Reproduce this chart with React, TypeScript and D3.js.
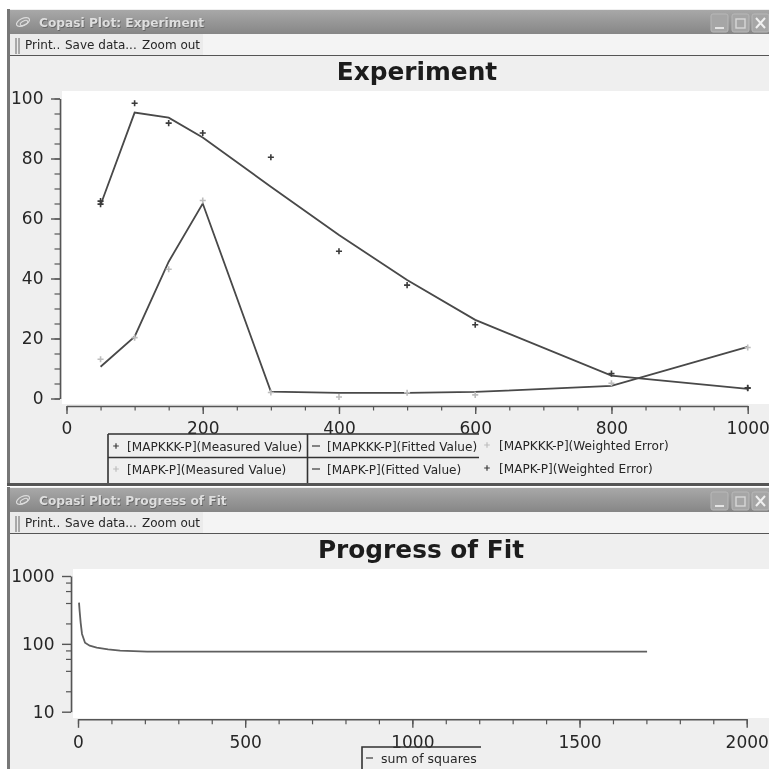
import { useEffect, useRef } from 'react';
import * as d3 from 'd3';

const timePoints = [50, 100, 150, 200, 300, 400, 500, 600, 800, 1000];
const mapkkkMeasured = [65.8, 98.4, 91.8, 88.5, 80.4, 49.1, 37.8, 24.6, 8.3, 3.6];
const mapkkkFitted = [64.5, 95.3, 93.6, 87, 70.6, 54.5, 39.5, 26.2, 7.6, 3.2];
const mapkMeasured = [13.1, 20.3, 43.1, 66, 2, 0.5, 1.9, 1.2, 5.1, 17];
const mapkFitted = [10.6, 20.6, 45.6, 65, 2.3, 1.9, 1.9, 2.2, 4.2, 17.2];
// weighted errors mostly sit under the measured marks, only these show
const errorTimes = [50, 1000];
const mapkError = [64.8, 3.4];

const fitSteps = [3, 5, 8, 12, 21, 35, 56, 90, 126, 207, 1702];
const fitSquares = [405, 300, 204, 140, 104, 94, 88, 83, 79.6, 77, 77];

const expXTicks = [0, 200, 400, 600, 800, 1000];
const expXMinor = d3.range(0, 1001, 50);
const expYTicks = [0, 20, 40, 60, 80, 100];
const expYMinor = d3.range(0, 101, 5);
const fitXTicks = [0, 500, 1000, 1500, 2000];
const fitXMinor = d3.range(0, 2001, 100);
const fitYTicks = [10, 100, 1000];
const fitYMinor = [20, 40, 60, 80, 200, 400, 600, 800];

const expLegend = [
  ['[MAPKKK-P](Measured Value)', '[MAPKKK-P](Fitted Value)', '[MAPKKK-P](Weighted Error)'],
  ['[MAPK-P](Measured Value)', '[MAPK-P](Fitted Value)', '[MAPK-P](Weighted Error)'],
];

const DARK = '#3a3a3a';
const LIGHT = '#bdbdbd';
const TEXT = '#262626';
const PANEL = '#efefef';
const FONT = '"DejaVu Sans", sans-serif';

type Sel = d3.Selection<any, unknown, null, undefined>;

function drawWindow(svg: Sel, top: number, bottom: number, label: string, title: string, titleX: number, titleY: number) {
  const g = svg.append('g');
  g.append('rect').attr('x', 7).attr('y', top).attr('width', 762).attr('height', bottom - top).attr('fill', PANEL);
  g.append('rect').attr('x', 8).attr('y', top + 1).attr('width', 761).attr('height', 24).attr('fill', 'url(#bar)');
  g.append('rect').attr('x', 7).attr('y', top).attr('width', 3).attr('height', bottom - top).attr('fill', '#777');

  // swirl icon
  g.append('ellipse').attr('cx', 23).attr('cy', top + 13).attr('rx', 7).attr('ry', 3.5)
    .attr('transform', `rotate(-25 23 ${top + 13})`)
    .attr('fill', 'none').attr('stroke', '#ddd').attr('stroke-width', 1.2);
  g.append('ellipse').attr('cx', 24).attr('cy', top + 14).attr('rx', 4).attr('ry', 2)
    .attr('transform', `rotate(-25 24 ${top + 14})`)
    .attr('fill', 'none').attr('stroke', '#ddd').attr('stroke-width', 1);

  g.append('text').attr('x', 39.7).attr('y', top + 18.7).text(label)
    .attr('font-family', FONT).attr('font-weight', 'bold').attr('font-size', 12.2).attr('fill', '#666');
  g.append('text').attr('x', 39).attr('y', top + 18).text(label)
    .attr('font-family', FONT).attr('font-weight', 'bold').attr('font-size', 12.2).attr('fill', '#dedede');

  // window buttons
  const btnX = [711, 732, 752];
  btnX.forEach(x => {
    g.append('rect').attr('x', x).attr('y', top + 5).attr('width', 17).attr('height', 18).attr('rx', 2)
      .attr('fill', '#a6a6a6').attr('stroke', '#b8b8b8');
  });
  g.append('path').attr('d', `M715 ${top + 19}h9`).attr('stroke', '#e4e4e4').attr('stroke-width', 2);
  g.append('rect').attr('x', 736).attr('y', top + 10).attr('width', 9).attr('height', 9)
    .attr('fill', 'none').attr('stroke', '#d8d8d8').attr('stroke-width', 1.4);
  g.append('path').attr('d', `M756 ${top + 9}l9 10m0 -10l-9 10`).attr('stroke', '#f0f0f0').attr('stroke-width', 2);

  // toolbar
  g.append('rect').attr('x', 10).attr('y', top + 25).attr('width', 759).attr('height', 21).attr('fill', '#f4f4f4');
  g.append('rect').attr('x', 10).attr('y', top + 25).attr('width', 193).attr('height', 21).attr('fill', '#ebebeb');
  g.append('path').attr('d', `M16 ${top + 29}v16M19 ${top + 29}v16`).attr('stroke', '#666').attr('stroke-width', 1);
  g.append('rect').attr('x', 10).attr('y', top + 46).attr('width', 759).attr('height', 1).attr('fill', '#555');
  const toolX = [25, 65, 142];
  ['Print..', 'Save data...', 'Zoom out'].forEach((t, i) => {
    g.append('text').attr('x', toolX[i]).attr('y', top + 40).text(t)
      .attr('font-family', FONT).attr('font-size', 12).attr('fill', TEXT);
  });

  g.append('text').attr('x', titleX).attr('y', titleY).attr('text-anchor', 'middle').text(title)
    .attr('font-family', FONT).attr('font-weight', 'bold').attr('font-size', 24.8).attr('fill', '#1c1c1c');
}

function drawAxis(svg: Sel, axis: d3.Axis<any>, minor: d3.Axis<any>, x: number, y: number) {
  const gMinor = svg.append('g').attr('transform', `translate(${x},${y})`).call(minor);
  gMinor.select('.domain').attr('stroke', '#555').attr('stroke-width', 1.6);
  gMinor.selectAll('.tick line').attr('stroke', '#555').attr('stroke-width', 1.2);
  gMinor.selectAll('.tick text').remove();
  const g = svg.append('g').attr('transform', `translate(${x},${y})`).call(axis);
  g.select('.domain').remove();
  g.selectAll('.tick line').attr('stroke', '#555').attr('stroke-width', 1.4);
  g.selectAll('.tick text').attr('font-family', FONT).attr('font-size', 17).attr('fill', TEXT);
}

function drawLegendText(svg: Sel, x: number, y: number, t: string, size: number) {
  svg.append('text').attr('x', x).attr('y', y).text(t)
    .attr('font-family', FONT).attr('font-size', size).attr('fill', TEXT);
}

export default function App() {
  const ref = useRef<SVGSVGElement>(null);

  useEffect(() => {
    d3.select(ref.current).selectAll('*').remove();
    const root = d3.select(ref.current);

    const defs = root.append('defs');
    const grad = defs.append('linearGradient').attr('id', 'bar').attr('x1', 0).attr('x2', 0).attr('y1', 0).attr('y2', 1);
    grad.append('stop').attr('offset', '0%').attr('stop-color', '#a8a8a8');
    grad.append('stop').attr('offset', '100%').attr('stop-color', '#868686');
    defs.append('filter').attr('id', 'soft').append('feGaussianBlur').attr('stdDeviation', 0.45);

    const svg = root.append('g').attr('filter', 'url(#soft)') as Sel;
    svg.append('rect').attr('width', 769).attr('height', 769).attr('fill', '#fff');

    // top window
    drawWindow(svg, 9, 484, 'Copasi Plot: Experiment', 'Experiment', 417, 80);
    svg.append('rect').attr('x', 7).attr('y', 483).attr('width', 762).attr('height', 3).attr('fill', '#555');
    svg.append('rect').attr('x', 62).attr('y', 91).attr('width', 707).attr('height', 313).attr('fill', '#fff');

    const x1 = d3.scaleLinear().domain([0, 1000]).range([66.5, 747.7]);
    const y1 = d3.scaleLinear().domain([0, 100]).range([398.5, 98.5]);

    drawAxis(svg,
      d3.axisBottom(x1).tickValues(expXTicks).tickSize(8).tickPadding(8).tickFormat(d3.format('d')),
      d3.axisBottom(x1).tickValues(expXMinor).tickSize(4.5).tickSizeOuter(0),
      0, 406);
    drawAxis(svg,
      d3.axisLeft(y1).tickValues(expYTicks).tickSize(9).tickPadding(7.5).tickFormat(d3.format('d')),
      d3.axisLeft(y1).tickValues(expYMinor).tickSize(5.5).tickSizeOuter(0),
      60, 0);

    const line1 = d3.line<[number, number]>().x(d => x1(d[0])).y(d => y1(d[1]));
    [mapkkkFitted, mapkFitted].forEach(vals => {
      svg.append('path')
        .attr('d', line1(timePoints.map((t, i) => [t, vals[i]] as [number, number])))
        .attr('fill', 'none').attr('stroke', '#484848').attr('stroke-width', 1.8);
    });

    const plus = d3.symbol().type(d3.symbolPlus).size(14);
    const drawMarks = (xs: number[], vals: number[], color: string) => {
      svg.append('g').selectAll('path').data(xs).enter().append('path')
        .attr('d', plus())
        .attr('transform', (t, i) => `translate(${x1(t)},${y1(vals[i])})`)
        .attr('fill', 'none').attr('stroke', color).attr('stroke-width', 1.6);
    };
    drawMarks(timePoints, mapkkkMeasured, DARK);
    drawMarks(timePoints, mapkMeasured, LIGHT);
    drawMarks(errorTimes, mapkError, DARK);

    // legend table of the top window
    const rowY = [451, 474];
    const errY = [450, 473];
    expLegend.forEach((row, i) => {
      drawLegendText(svg, 127, rowY[i], row[0], 12.1);
      drawLegendText(svg, 327, rowY[i], row[1], 12.1);
      drawLegendText(svg, 499, errY[i], row[2], 12.1);
      svg.append('path').attr('d', d3.symbol().type(d3.symbolPlus).size(12)())
        .attr('transform', `translate(116,${rowY[i] - 5})`).attr('fill', 'none')
        .attr('stroke', i === 0 ? DARK : LIGHT).attr('stroke-width', 1.2);
      svg.append('path').attr('d', `M312 ${rowY[i] - 5}h8`).attr('stroke', DARK).attr('stroke-width', 1.2);
      svg.append('path').attr('d', d3.symbol().type(d3.symbolPlus).size(12)())
        .attr('transform', `translate(487,${errY[i] - 5})`).attr('fill', 'none')
        .attr('stroke', i === 0 ? LIGHT : DARK).attr('stroke-width', 1.2);
    });
    svg.append('path').attr('d', 'M108 434H479M108 457.5H479M108 434V483M307.5 434V483')
      .attr('fill', 'none').attr('stroke', '#333').attr('stroke-width', 1.6);

    // bottom window
    drawWindow(svg, 487, 769, 'Copasi Plot: Progress of Fit', 'Progress of Fit', 421, 558);
    svg.append('rect').attr('x', 73).attr('y', 569).attr('width', 696).attr('height', 149).attr('fill', '#fff');

    const x2 = d3.scaleLinear().domain([0, 2000]).range([78, 746.7]);
    const y2 = d3.scaleLog().domain([10, 1000]).range([711.7, 576]);

    drawAxis(svg,
      d3.axisBottom(x2).tickValues(fitXTicks).tickSize(8.5).tickPadding(8).tickFormat(d3.format('d')),
      d3.axisBottom(x2).tickValues(fitXMinor).tickSize(5).tickSizeOuter(0),
      0, 719.3);
    drawAxis(svg,
      d3.axisLeft(y2).tickValues(fitYTicks).tickSize(9).tickPadding(7.5).tickFormat(d3.format('d')),
      d3.axisLeft(y2).tickValues(fitYMinor).tickSize(5).tickSizeOuter(0),
      71, 0);

    const line2 = d3.line<number>().x(d => x2(d)).y((d, i) => y2(fitSquares[i]));
    svg.append('path').attr('d', line2(fitSteps))
      .attr('fill', 'none').attr('stroke', '#5e5e5e').attr('stroke-width', 1.8);

    drawLegendText(svg, 381, 763, 'sum of squares', 12.5);
    svg.append('path').attr('d', 'M366 758h7').attr('stroke', DARK).attr('stroke-width', 1.2);
    svg.append('path').attr('d', 'M362 769V747H481').attr('fill', 'none').attr('stroke', '#333').attr('stroke-width', 1.6);
  }, []);

  return <svg ref={ref} width={769} height={769} style={{ position: 'absolute', left: 0, top: 0, display: 'block' }} />;
}
